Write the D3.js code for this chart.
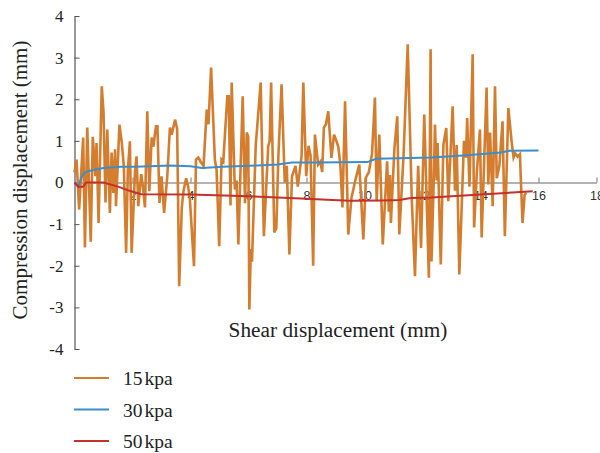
<!DOCTYPE html>
<html>
<head>
<meta charset="utf-8">
<script src="https://cdn.jsdelivr.net/npm/d3@7"></script>
<style>
  body { margin: 0; background: #fff; }
  svg { display: block; }
</style>
</head>
<body>
<svg id="chart" width="600" height="453"></svg>
<script>
// Series names and colours
const seriesNames = ["15kpa", "30kpa", "50kpa"];
const seriesColors = ["#d47d2e", "#3d8dc8", "#c4302b"];

// 15 kpa - shear displacement (mm) / compression displacement (mm)
const x15 = [0.00, 0.07, 0.16, 0.30, 0.36, 0.44, 0.56, 0.63, 0.72, 0.76, 0.83, 0.94, 1.00, 1.07, 1.13, 1.22, 1.28, 1.34, 1.40, 1.43,
  1.55, 1.63, 1.70, 1.78, 1.84, 1.91, 1.97, 2.09, 2.14, 2.20, 2.30, 2.36, 2.43, 2.51, 2.58, 2.66, 2.72, 2.81, 2.86, 2.93,
  3.00, 3.09, 3.20, 3.29, 3.35, 3.47, 3.54, 3.61, 3.70, 3.76, 3.85, 3.92, 3.98, 4.12, 4.19, 4.27, 4.35, 4.45, 4.56, 4.62,
  4.71, 4.84, 4.90, 4.99, 5.07, 5.13, 5.27, 5.32, 5.38, 5.42, 5.53, 5.59, 5.65, 5.80, 5.88, 5.94, 5.99, 6.03, 6.08, 6.12,
  6.25, 6.42, 6.53, 6.68, 6.73, 6.78, 6.89, 6.96, 7.03, 7.14, 7.25, 7.32, 7.41, 7.50, 7.62, 7.70, 7.83, 7.89, 7.99, 8.07,
  8.14, 8.23, 8.29, 8.40, 8.48, 8.54, 8.60, 8.67, 8.75, 8.86, 8.95, 9.03, 9.10, 9.17, 9.24, 9.33, 9.44, 9.55, 9.70, 9.82,
  9.96, 10.05, 10.15, 10.26, 10.36, 10.42, 10.51, 10.63, 10.78, 10.84, 10.88, 10.91, 11.03, 11.13, 11.20, 11.35, 11.49, 11.63, 11.74, 11.85,
  11.95, 12.06, 12.22, 12.28, 12.31, 12.40, 12.43, 12.49, 12.52, 12.63, 12.72, 12.82, 12.89, 13.04, 13.12, 13.18, 13.27, 13.43, 13.50, 13.54,
  13.62, 13.73, 13.78, 13.87, 13.98, 14.04, 14.21, 14.27, 14.33, 14.42, 14.50, 14.56, 14.65, 14.76, 14.84, 14.96, 15.07, 15.14, 15.20, 15.28,
  15.36, 15.40, 15.45, 15.52, 15.58];
const y15 = [0.24, 0.55, -0.65, 1.08, -1.56, 1.32, -1.42, 1.10, 0.15, 0.95, -0.97, 2.31, 1.70, -0.48, 1.27, -0.73, 0.72, -0.25, 0.80, -0.57,
  1.39, 0.96, 0.40, -1.69, 0.30, 0.99, -1.69, 0.31, 0.63, -0.57, 0.20, -0.10, -0.60, 1.71, -0.21, 1.08, 0.86, 1.35, 1.35, -0.49,
  0.15, -0.73, 0.15, 1.32, 1.15, 1.51, 1.28, -2.49, -0.60, -0.20, 0.10, -0.10, -0.41, -2.01, 0.55, 0.60, 0.50, 0.40, 1.75, 1.40,
  2.76, 0.55, 0.30, -1.53, 0.55, 0.50, 2.07, 2.07, -0.55, 2.40, -0.17, 0.05, -1.49, 2.07, -0.50, 1.20, 1.10, -3.05, -1.60, -1.90,
  0.90, 2.40, -1.29, 0.87, 1.00, 2.40, -1.20, -1.10, 0.63, 2.36, 0.00, 0.40, -1.73, 0.15, 0.40, -0.10, 0.63, 2.40, 0.15, 0.88,
  0.65, -2.00, 1.15, 0.43, 0.50, 0.25, 1.32, 1.40, 1.71, 0.59, 1.15, 1.00, 0.85, 0.40, -0.60, 1.95, -1.25, -0.37, 0.10, 0.43,
  -1.37, 0.12, 0.25, 0.70, 2.04, -0.45, 1.15, -1.49, 0.51, -0.70, 0.18, -0.97, 0.80, 1.59, -1.25, 0.70, 3.32, -0.40, -2.25, 0.40,
  -1.57, 1.63, -2.29, 3.20, -1.90, 0.35, 1.39, 0.05, 0.95, -1.97, 0.91, 1.31, -0.45, 1.83, -0.20, 0.90, -2.21, 1.00, 0.60, 1.55,
  -0.10, 3.08, -1.08, 0.20, 1.27, -1.32, 2.28, -0.05, 1.20, -0.57, 2.31, 0.10, 0.40, 1.47, -1.29, 1.79, 1.00, 0.60, 0.70, 0.62,
  0.68, -0.10, -0.97, -0.30, -0.25];

// 30 kpa
const x30 = [0, 0.13, 0.26, 0.37, 0.65, 1.0, 1.6, 2.1, 3.3, 4.0, 4.4, 5.1, 6.3, 7.0, 7.5, 8.3, 10.1, 10.4, 12.3, 13.4, 14.7, 15.0, 16.0];
const y30 = [0, -0.1, 0.16, 0.25, 0.3, 0.35, 0.38, 0.38, 0.41, 0.39, 0.35, 0.38, 0.41, 0.43, 0.48, 0.48, 0.49, 0.57, 0.6, 0.65, 0.72, 0.76, 0.77];

// 50 kpa
const x50 = [0, 0.13, 0.3, 0.4, 1.0, 1.5, 1.9, 2.3, 4.0, 6.0, 8.0, 8.9, 9.5, 10.6, 11.2, 11.6, 12.3, 14.0, 15.8];
const y50 = [0, -0.1, -0.1, 0.0, 0.0, -0.1, -0.2, -0.28, -0.29, -0.33, -0.39, -0.42, -0.44, -0.43, -0.42, -0.37, -0.36, -0.29, -0.21];

// Axis ticks
const xTicks = [2, 4, 6, 8, 10, 12, 14, 16, 18];
const yTicks = [-4, -3, -2, -1, 0, 1, 2, 3, 4];

const svg = d3.select("svg#chart");
const serif = "'Liberation Serif', 'DejaVu Serif', serif";

//   Scales
const x = d3.scaleLinear().domain([0, 18]).range([74.5, 596.5]);
const y = d3.scaleLinear().domain([-4, 4]).range([349, 16]);

//   X axis across zero
const xAxis = svg.append("g")
    .attr("transform", "translate(0," + y(0) + ")")
    .call(d3.axisBottom(x).tickValues(xTicks).tickSizeInner(-5).tickSizeOuter(0).tickPadding(9));
xAxis.select(".domain").attr("stroke", "#9a9a9a").attr("stroke-width", 1.6);
xAxis.selectAll(".tick line").attr("stroke", "#777");
xAxis.selectAll(".tick text")
    .attr("fill", "#333")
    .style("font-family", "'Liberation Sans', Arial, sans-serif")
    .style("font-size", "12.5px");

//   Y axis
const yAxis = svg.append("g")
    .attr("transform", "translate(" + x(0) + ",0)")
    .call(d3.axisLeft(y).tickValues(yTicks).tickSizeInner(-5).tickSizeOuter(0).tickPadding(11)
        .tickFormat(d => String(d)));
yAxis.select(".domain").attr("stroke", "#555").attr("stroke-width", 1.2);
yAxis.selectAll(".tick line").attr("stroke", "#555");
yAxis.selectAll(".tick text")
    .attr("fill", "#222")
    .style("font-family", serif)
    .style("font-size", "17px");

//   Lines
const line = d3.line().x(d => x(d[0])).y(d => y(d[1]));
const series = [
    { xs: x15, ys: y15, width: 2.6 },
    { xs: x30, ys: y30, width: 2 },
    { xs: x50, ys: y50, width: 2 }
];
series.forEach((s, i) => {
    svg.append("path")
        .datum(d3.zip(s.xs, s.ys))
        .attr("fill", "none")
        .attr("stroke", seriesColors[i])
        .attr("stroke-width", s.width)
        .attr("stroke-linejoin", "miter")
        .attr("stroke-miterlimit", 4)
        .attr("d", line);
});

//   Axis titles
svg.append("text")
    .attr("x", 338)
    .attr("y", 337)
    .attr("text-anchor", "middle")
    .style("font-family", serif)
    .style("font-size", "21.3px")
    .attr("fill", "#222")
    .text("Shear displacement (mm)");

svg.append("text")
    .attr("transform", "translate(27,180) rotate(-90)")
    .attr("text-anchor", "middle")
    .style("font-family", serif)
    .style("font-size", "21px")
    .attr("fill", "#222")
    .text("Compression displacement (mm)");

//   Legend
const legend = svg.append("g");
seriesNames.forEach((name, i) => {
    const ly = 378 + i * 31.5;
    legend.append("line")
        .attr("x1", 74).attr("x2", 109)
        .attr("y1", ly).attr("y2", ly)
        .attr("stroke", seriesColors[i])
        .attr("stroke-width", 2.2);
    const t = legend.append("text")
        .attr("x", 123)
        .attr("y", ly + 7)
        .style("font-family", serif)
        .style("font-size", "19.5px")
        .attr("fill", "#222");
    t.append("tspan").text(name.slice(0, 2));
    t.append("tspan").attr("dx", 2).text(name.slice(2));
});
</script>
</body>
</html>
